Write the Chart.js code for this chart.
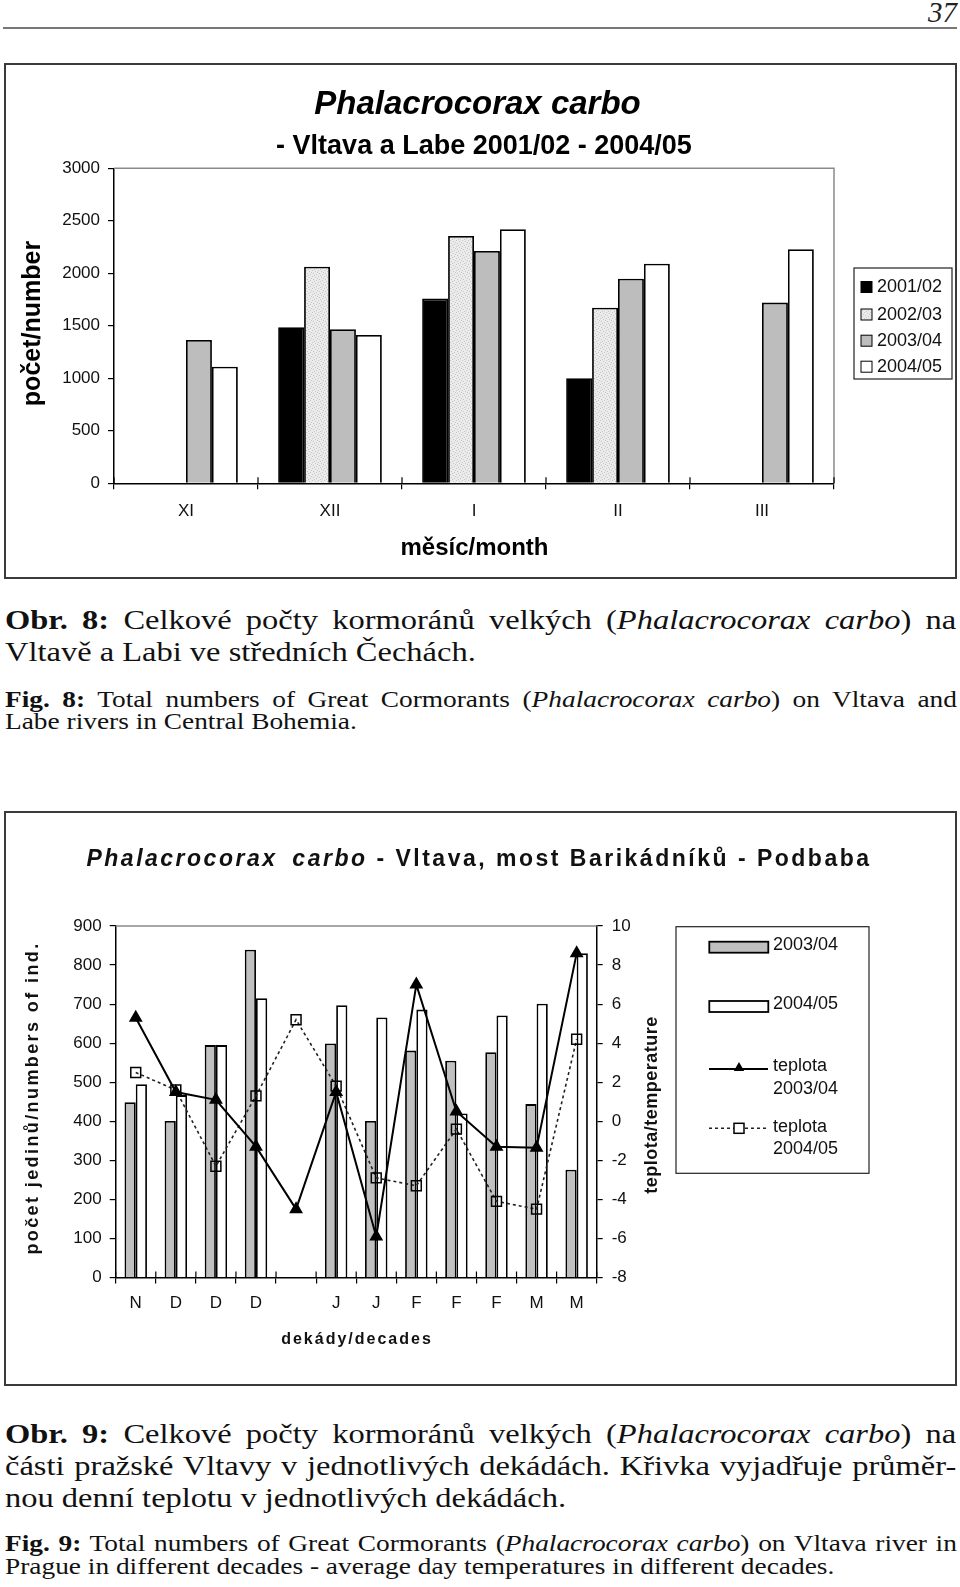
<!DOCTYPE html>
<html>
<head>
<meta charset="utf-8">
<script src="https://cdn.jsdelivr.net/npm/chart.js@4.4.0/dist/chart.umd.min.js"></script>
<style>
body { margin: 0; background: #fff; width: 960px; height: 1587px; position: relative; overflow: hidden; }
.abs { position: absolute; }
.box { position: absolute; border: 2px solid #3a3a3a; box-sizing: border-box; pointer-events: none; }
.cap { position: absolute; left: 5px; font-family: "Liberation Serif", "Times New Roman", serif; color: #111;
       transform-origin: 0 0; white-space: nowrap; }
.obr { font-size: 28px; line-height: 32.4px; width: 820px; transform: scaleX(1.16); }
.fig { font-size: 24px; line-height: 22.5px; width: 835px; transform: scaleX(1.14); }
.j { text-align: justify; text-align-last: justify; }
</style>
</head>
<body>

<div class="abs" style="right:3px;top:-2px;font:italic 29px/29px 'Liberation Serif',serif;color:#222">37</div>
<div class="abs" style="left:3px;top:27px;width:954px;height:2px;background:#777"></div>

<canvas id="graf1" width="960" height="520" style="position:absolute;left:0;top:60px"></canvas>
<div class="box" style="left:4px;top:63px;width:953px;height:516px"></div>

<div class="cap obr" style="top:603.6px">
  <div class="j"><b>Obr. 8:</b> Celkové počty kormoránů velkých (<i>Phalacrocorax carbo</i>) na</div>
  <div>Vltavě a Labi ve středních Čechách.</div>
</div>
<div class="cap fig" style="top:687.8px">
  <div class="j"><b>Fig. 8:</b> Total numbers of Great Cormorants (<i>Phalacrocorax carbo</i>) on Vltava and</div>
  <div>Labe rivers in Central Bohemia.</div>
</div>

<canvas id="graf2" width="960" height="580" style="position:absolute;left:0;top:810px"></canvas>
<div class="box" style="left:4px;top:811px;width:953px;height:575px"></div>

<div class="cap obr" style="top:1417.6px">
  <div class="j"><b>Obr. 9:</b> Celkové počty kormoránů velkých (<i>Phalacrocorax carbo</i>) na</div>
  <div class="j">části pražské Vltavy v jednotlivých dekádách. Křivka vyjadřuje průměr-</div>
  <div>nou denní teplotu v jednotlivých dekádách.</div>
</div>
<div class="cap fig" style="top:1532.3px">
  <div class="j"><b>Fig. 9:</b> Total numbers of Great Cormorants (<i>Phalacrocorax carbo</i>) on Vltava river in</div>
  <div>Prague in different decades - average day temperatures in different decades.</div>
</div>

<script>
// Obr. 8 - počty podle měsíců
const mesice = ['XI', 'XII', 'I', 'II', 'III'];
const sezony = ['2001/02', '2002/03', '2003/04', '2004/05'];
const pocet0102 = [null, 1486, 1759, 1000, null];
const pocet0203 = [null, 2063, 2356, 1673, null];
const pocet0304 = [1365, 1467, 2213, 1949, 1721];
const pocet0405 = [1111, 1413, 2419, 2092, 2229];
const osaPocet = { min: 0, max: 3000, krok: 500 };

// Obr. 9 - dekády, počty a teplota
const dekady = ['N', 'D', 'D', 'D', '', 'J', 'J', 'F', 'F', 'F', 'M', 'M'];
const jedinci0304 = [449, 401, 595, 839, null, 599, 401, 581, 555, 577, 444, 276];
const jedinci0405 = [495, 467, 595, 715, null, 697, 666, 686, 420, 671, 701, 830];
const teplota0304 = [5.3, 1.5, 1.1, -1.3, -4.5, 1.5, -5.9, 7.0, 0.5, -1.3, -1.35, 8.6];
const teplota0405 = [2.5, 1.6, -2.3, 1.3, 5.2, 1.8, -2.9, -3.3, -0.4, -4.1, -4.5, 4.2];
const osaJedinci = { min: 0, max: 900, krok: 100 };
const osaTeplota = { min: -8, max: 10, krok: 2 };

const PISMO = '"Liberation Sans", Arial, sans-serif';
Chart.defaults.font.family = PISMO;
Chart.defaults.color = '#111';

// tečkovaná výplň pro 2002/03
function vzorek(ctx) {
    const c = document.createElement('canvas');
    c.width = 6; c.height = 6;
    const g = c.getContext('2d');
    g.fillStyle = '#ebebeb';
    g.fillRect(0, 0, 6, 6);
    g.fillStyle = '#c6c6c6';
    [[0, 0], [3, 1], [1, 3], [4, 4], [5, 2], [2, 5]].forEach(([x, y]) => g.fillRect(x, y, 1, 1));
    return ctx.createPattern(c, 'repeat');
}

function osaX(pad) {
    return {
        grid: { drawOnChartArea: false, tickLength: 6, color: '#000', lineWidth: 1.2, offset: true },
        border: { color: '#000', width: 1.5 },
        ticks: { font: { size: 17 }, color: '#111', padding: pad, maxRotation: 0, autoSkip: false },
        afterFit: s => { s.height = 40; }
    };
}

function osaY(rozsah, pozice) {
    return {
        position: pozice,
        min: rozsah.min,
        max: rozsah.max,
        grid: { drawOnChartArea: false, tickLength: 6, color: '#000', lineWidth: 1.2 },
        border: { color: '#000', width: 1.5 },
        ticks: {
            stepSize: rozsah.krok, font: { size: 17 }, color: '#111',
            padding: pozice === 'left' ? 8 : 9,
            callback: v => String(v)
        },
        afterFit: s => { s.width = 60; }
    };
}

// čárky přes osu x (i dovnitř grafu)
function carkyX(ctx, a, n) {
    ctx.strokeStyle = '#000';
    ctx.lineWidth = 1.2;
    ctx.beginPath();
    for (let i = 0; i <= n; i++) {
        const x = a.left + i * (a.right - a.left) / n;
        ctx.moveTo(x, a.bottom - 6);
        ctx.lineTo(x, a.bottom);
    }
    ctx.stroke();
}

function textRot(ctx, text, x, y, font, mezera) {
    ctx.save();
    ctx.translate(x, y);
    ctx.rotate(-Math.PI / 2);
    ctx.font = font;
    ctx.letterSpacing = mezera || '0px';
    ctx.textAlign = 'center';
    ctx.textBaseline = 'middle';
    ctx.fillText(text, 0, 0);
    ctx.restore();
}

// ---------- Obr. 8 ----------
const ctx1 = document.getElementById('graf1').getContext('2d');
const barvy1 = ['#000000', vzorek(ctx1), '#bdbdbd', '#ffffff'];
const data1 = [pocet0102, pocet0203, pocet0304, pocet0405];

const popisky1 = {
    id: 'popisky1',
    afterDraw(chart) {
        const ctx = chart.ctx;
        const a = chart.chartArea;
        ctx.save();
        ctx.strokeStyle = '#8a8a8a';
        ctx.lineWidth = 1.5;
        ctx.beginPath();
        ctx.moveTo(a.left, a.top);
        ctx.lineTo(a.right, a.top);
        ctx.lineTo(a.right, a.bottom);
        ctx.stroke();
        carkyX(ctx, a, mesice.length);

        ctx.fillStyle = '#000';
        ctx.textAlign = 'center';
        ctx.textBaseline = 'alphabetic';
        ctx.font = 'italic bold 33px ' + PISMO;
        ctx.fillText('Phalacrocorax carbo', 477.5, 54.3);
        ctx.font = 'bold 27px ' + PISMO;
        ctx.fillText('- Vltava a Labe 2001/02 - 2004/05', 484, 94);
        ctx.font = 'bold 24px ' + PISMO;
        ctx.fillText('měsíc/month', 474.5, 494.5);
        textRot(ctx, 'počet/number', 33, 263.5, 'bold 25px ' + PISMO);

        // legenda
        ctx.strokeStyle = '#222';
        ctx.lineWidth = 1.2;
        ctx.strokeRect(854, 208, 98, 111);
        const radky = [227, 254.5, 280.7, 306.7];
        chart.data.datasets.forEach((ds, i) => {
            ctx.fillStyle = ds.backgroundColor;
            ctx.fillRect(861, radky[i] - 5.5, 11, 11);
            ctx.strokeStyle = '#000';
            ctx.lineWidth = 1;
            ctx.strokeRect(861, radky[i] - 5.5, 11, 11);
            ctx.fillStyle = '#111';
            ctx.font = '18px ' + PISMO;
            ctx.textAlign = 'left';
            ctx.textBaseline = 'middle';
            ctx.fillText(ds.label, 877, radky[i] + 0.5);
        });
        ctx.restore();
    }
};

new Chart(ctx1, {
    type: 'bar',
    data: {
        labels: mesice,
        datasets: sezony.map((s, i) => ({
            label: s,
            data: data1[i],
            backgroundColor: barvy1[i],
            borderColor: '#000',
            borderWidth: 1.8
        }))
    },
    options: {
        responsive: false,
        animation: false,
        datasets: { bar: { categoryPercentage: 0.72, barPercentage: 1 } },
        layout: { padding: { left: 54, right: 126, top: 108.3, bottom: 56.7 } },
        plugins: { legend: { display: false }, title: { display: false }, tooltip: { enabled: false } },
        scales: {
            x: osaX(12),
            y: osaY(osaPocet, 'left')
        }
    },
    plugins: [popisky1]
});

// ---------- Obr. 9 ----------
const ctx2 = document.getElementById('graf2').getContext('2d');

function trojuhelnik(ctx, x, y, r) {
    ctx.beginPath();
    ctx.moveTo(x, y - r);
    ctx.lineTo(x + r * 0.866, y + r * 0.5);
    ctx.lineTo(x - r * 0.866, y + r * 0.5);
    ctx.closePath();
    ctx.fill();
}

const popisky2 = {
    id: 'popisky2',
    afterDraw(chart) {
        const ctx = chart.ctx;
        const a = chart.chartArea;
        ctx.save();
        ctx.strokeStyle = '#8a8a8a';
        ctx.lineWidth = 1.5;
        ctx.beginPath();
        ctx.moveTo(a.left, a.top);
        ctx.lineTo(a.right, a.top);
        ctx.stroke();
        carkyX(ctx, a, dekady.length);

        // nadpis: kurzíva + zbytek tučně, prostrkaně
        ctx.fillStyle = '#111';
        ctx.textBaseline = 'alphabetic';
        ctx.textAlign = 'left';
        ctx.letterSpacing = '2.5px';
        ctx.wordSpacing = '6px';
        const f1 = 'italic bold 23px ' + PISMO, f2 = 'bold 23px ' + PISMO;
        const t1 = 'Phalacrocorax carbo', t2 = ' - Vltava, most Barikádníků - Podbaba';
        ctx.font = f1; const w1 = ctx.measureText(t1).width;
        ctx.font = f2; const w2 = ctx.measureText(t2).width;
        const x0 = 479 - (w1 + w2) / 2;
        ctx.font = f1; ctx.fillText(t1, x0, 56);
        ctx.font = f2; ctx.fillText(t2, x0 + w1, 56);
        ctx.wordSpacing = '0px';

        ctx.textAlign = 'center';
        ctx.textBaseline = 'middle';
        ctx.font = 'bold 16px ' + PISMO;
        ctx.letterSpacing = '2px';
        ctx.fillText('dekády/decades', 357, 530);
        ctx.letterSpacing = '0px';
        textRot(ctx, 'počet jedinů/numbers of ind.', 33, 288, 'bold 18px ' + PISMO, '2.4px');
        textRot(ctx, 'teplota/temperature', 652, 295, 'bold 18px ' + PISMO, '0.5px');

        // legenda
        ctx.strokeStyle = '#222';
        ctx.lineWidth = 1.2;
        ctx.strokeRect(676, 116.7, 193, 246.6);
        const ds = chart.data.datasets;
        const sloupce = ds.filter(d => d.type === 'bar');
        const cary = ds.filter(d => d.type === 'line');
        ctx.font = '18px ' + PISMO;
        ctx.textAlign = 'left';
        [131.7, 191].forEach((y, i) => {
            ctx.fillStyle = sloupce[i].backgroundColor;
            ctx.fillRect(709.3, y, 59, 11);
            ctx.strokeStyle = '#000';
            ctx.lineWidth = 1.8;
            ctx.strokeRect(709.3, y, 59, 11);
            ctx.fillStyle = '#111';
            ctx.fillText(sloupce[i].label, 773, y + 3);
        });
        [[259, 256, 279], [318.3, 317, 339]].forEach(([y, ya, yb], i) => {
            const d = cary[i];
            ctx.strokeStyle = d.borderColor;
            ctx.lineWidth = d.borderWidth;
            ctx.setLineDash(d.borderDash || []);
            ctx.beginPath();
            ctx.moveTo(709, y);
            ctx.lineTo(768, y);
            ctx.stroke();
            ctx.setLineDash([]);
            if (d.pointStyle === 'triangle') {
                ctx.fillStyle = '#000';
                trojuhelnik(ctx, 739, y - 1, 6);
            } else {
                ctx.fillStyle = '#fff';
                ctx.fillRect(734, y - 5, 10, 10);
                ctx.strokeStyle = '#000';
                ctx.lineWidth = 1.5;
                ctx.strokeRect(734, y - 5, 10, 10);
            }
            ctx.fillStyle = '#111';
            const [r1, r2] = d.label.split('\n');
            ctx.fillText(r1, 773, ya);
            ctx.fillText(r2, 773, yb);
        });
        ctx.restore();
    }
};

new Chart(ctx2, {
    type: 'bar',
    data: {
        labels: dekady,
        datasets: [
            {
                type: 'line', label: 'teplota\n2003/04', data: teplota0304, yAxisID: 'y1', order: 0,
                borderColor: '#000', borderWidth: 2, tension: 0,
                pointStyle: 'triangle', pointRadius: 6, pointBackgroundColor: '#000', pointBorderColor: '#000'
            },
            {
                type: 'line', label: 'teplota\n2004/05', data: teplota0405, yAxisID: 'y1', order: 0,
                borderColor: '#222', borderWidth: 1.6, borderDash: [3, 3], tension: 0,
                pointStyle: 'rect', pointRadius: 7, pointBackgroundColor: 'rgba(255,255,255,0)',
                pointBorderColor: '#000', pointBorderWidth: 1.5
            },
            {
                type: 'bar', label: '2003/04', data: jedinci0304, yAxisID: 'y', order: 1,
                backgroundColor: '#c0c0c0', borderColor: '#000', borderWidth: 1.8
            },
            {
                type: 'bar', label: '2004/05', data: jedinci0405, yAxisID: 'y', order: 1,
                backgroundColor: '#ffffff', borderColor: '#000', borderWidth: 1.8
            }
        ]
    },
    options: {
        responsive: false,
        animation: false,
        datasets: { bar: { categoryPercentage: 0.56, barPercentage: 1 } },
        layout: { padding: { left: 55.7, right: 303.3, top: 116, bottom: 72.5 } },
        plugins: { legend: { display: false }, title: { display: false }, tooltip: { enabled: false } },
        scales: {
            x: osaX(10),
            y: osaY(osaJedinci, 'left'),
            y1: osaY(osaTeplota, 'right')
        }
    },
    plugins: [popisky2]
});
</script>
</body>
</html>
